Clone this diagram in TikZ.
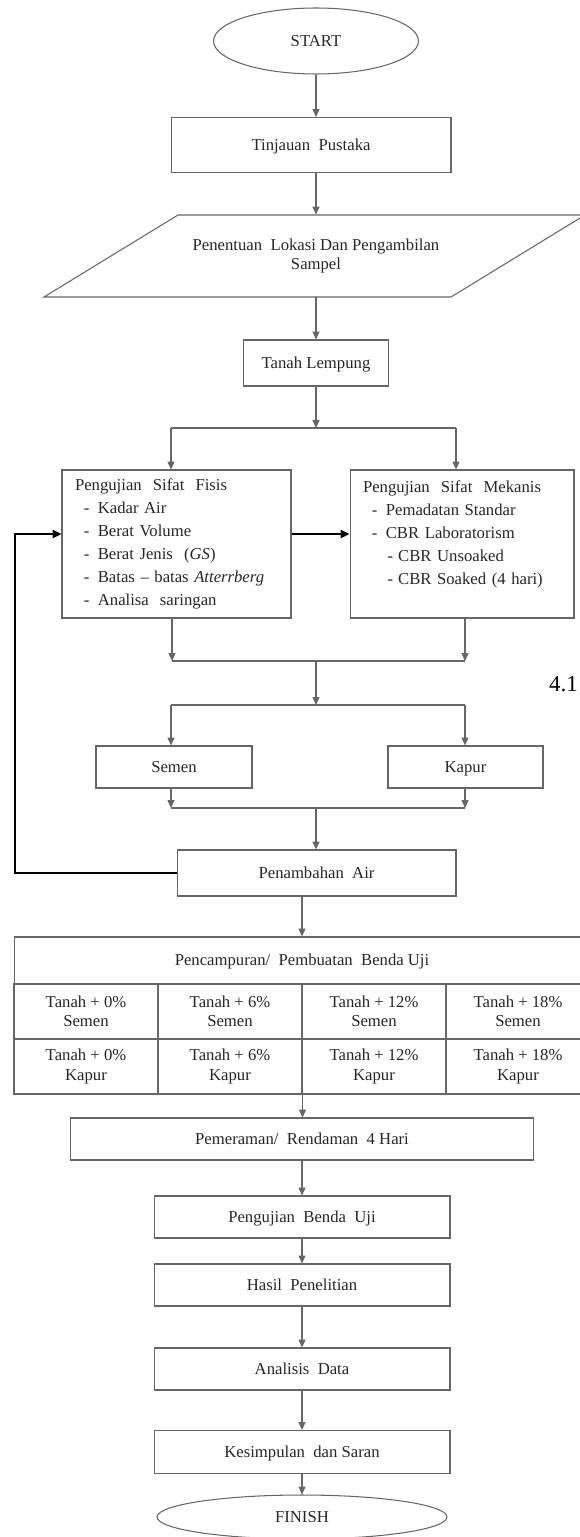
\documentclass[tikz,border=0pt]{standalone}
\usepackage{fontspec}
\setmainfont{Liberation Serif}
\usepackage{tikz}
\usetikzlibrary{shapes.geometric, arrows.meta}
\definecolor{boxline}{gray}{0.40}
\definecolor{boxtext}{gray}{0.15}

\newcommand{\itm}[1]{\hspace*{5pt}\makebox[8pt][l]{-}#1}
\newcommand{\subitm}[1]{\hspace*{14pt}\makebox[6pt][l]{-}#1}

\begin{document}
\begin{tikzpicture}[x=0.02cm, y=-0.02cm,
		every node/.style={font=\fontsize{9.5}{11}\selectfont, text=boxtext},
		box/.style={draw=boxline, line width=0.6pt, rectangle, align=center, inner sep=2pt},
		onebox/.style={box, text height=1.6ex, text depth=0.3ex},
		listbox/.style={box, align=left, inner xsep=0.26cm, minimum height=2.96cm,
			font=\fontsize{9.5}{13}\selectfont},
		term/.style={draw=boxline, line width=0.6pt, ellipse, inner sep=0pt},
		cell/.style={box, minimum width=2.88cm, minimum height=1.1cm, inner sep=0pt},
		joinline/.style={draw=boxline, line width=0.6pt},
		flow/.style={joinline, -{Triangle[length=4.5pt,width=4pt]}},
		backline/.style={draw=black, line width=1.6pt, -{Triangle[length=5pt,width=4.5pt]}}]
	\useasboundingbox (0,0) rectangle (580,1537);

	% start, literature, sampling site
	\node[term, minimum width=4.1cm, minimum height=1.32cm] (start) at (316,41) {START};
	\node[onebox, minimum width=5.6cm, minimum height=1.1cm] (tinjauan) at (311,145) {Tinjauan\ \ Pustaka};
	\node[align=center, minimum height=1.64cm] (lokasi) at (316,256)
		{Penentuan\ \ Lokasi Dan Pengambilan\\Sampel};
	\draw[joinline] (44,297) -- (451,297) -- (585,215) -- (178,215) -- cycle;

	\draw[flow] (start.south) -- (start.south |- tinjauan.north);
	\draw[flow] (tinjauan.south -| start.south) -- (lokasi.north);

	% clay
	\node[onebox, minimum width=2.9cm, minimum height=0.92cm] (tanah) at (316,363) {Tanah Lempung};
	\draw[flow] (lokasi.south) -- (tanah.north);

	% physical and mechanical tests
	\node[listbox, minimum width=4.58cm, text width=4.06cm] (fisis) at (176.5,544)
		{Pengujian\ \ Sifat\ \ Fisis\\
		\itm{Kadar Air}\\
		\itm{Berat Volume}\\
		\itm{Berat Jenis\ \ (\textit{GS})}\\
		\itm{Batas -- batas \textit{Atterrberg}}\\
		\itm{Analisa\ \ saringan}};
	\node[listbox, minimum width=4.48cm, text width=3.96cm] (mekanis) at (462,544)
		{Pengujian\ \ Sifat\ \ Mekanis\\
		\itm{Pemadatan Standar}\\
		\itm{CBR Laboratorism}\\
		\subitm{CBR Unsoaked}\\
		\subitm{CBR Soaked (4 hari)}\\
		\mbox{}};

	\coordinate (sp1l) at (171,428);
	\coordinate (sp1r) at (456,428);
	\draw[flow] (tanah.south) -- (tanah.south |- sp1l);
	\draw[joinline] (sp1l) -- (sp1r);
	\draw[flow] (sp1l) -- (sp1l |- fisis.north);
	\draw[flow] (sp1r) -- (sp1r |- mekanis.north);

	\coordinate (fb) at (15,534);
	\draw[backline] (fb -| fisis.east) -- (fb -| mekanis.west);

	% merge, then cement / lime
	\coordinate (mg1l) at (172,661);
	\coordinate (mg1r) at (465,661);
	\coordinate (mg1c) at (316,661);
	\draw[flow] (mg1l |- fisis.south) -- (mg1l);
	\draw[flow] (mg1r |- mekanis.south) -- (mg1r);
	\draw[joinline] (mg1l) -- (mg1r);

	\node[onebox, minimum width=3.12cm, minimum height=0.84cm] (semen) at (174,767) {Semen};
	\node[onebox, minimum width=3.1cm, minimum height=0.84cm] (kapur) at (465.5,767) {Kapur};

	\coordinate (sp2l) at (171,705);
	\coordinate (sp2r) at (465,705);
	\draw[flow] (mg1c) -- (mg1c |- sp2l);
	\draw[joinline] (sp2l) -- (sp2r);
	\draw[flow] (sp2l) -- (sp2l |- semen.north);
	\draw[flow] (sp2r) -- (sp2r |- kapur.north);

	\node[font=\fontsize{13}{15}\selectfont, text=black, anchor=west] (secnum) at (543,684) {4.1};

	% water
	\node[onebox, minimum width=5.58cm, minimum height=0.92cm] (penambahan) at (316.5,873) {Penambahan\ \ Air};

	\coordinate (mg2l) at (171,808);
	\coordinate (mg2r) at (465,808);
	\coordinate (mg2c) at (316,808);
	\draw[flow] (mg2l |- semen.south) -- (mg2l);
	\draw[flow] (mg2r |- kapur.south) -- (mg2r);
	\draw[joinline] (mg2l) -- (mg2r);
	\draw[flow] (mg2c) -- (mg2c |- penambahan.north);

	\draw[backline] (penambahan.west) -| (fb) -- (fb -| fisis.west);

	% mixing table
	\node[onebox, minimum width=11.52cm, minimum height=0.94cm] (hdr) at (302,960.5)
		{Pencampuran/\ \ Pembuatan\ \ Benda Uji};
	\foreach \pct [count=\i] in {0,6,12,18} {
		\node[cell] (s\i) at ({86+144*(\i-1)},1011.5) {Tanah + \pct\%\\Semen};
		\node[cell] (k\i) at ({86+144*(\i-1)},1066.5) {Tanah + \pct\%\\Kapur};
	}
	\draw[flow] (penambahan.south -| hdr.north) -- (hdr.north);

	% curing to conclusion
	\node[onebox, minimum width=9.26cm, minimum height=0.84cm] (pemeraman) at (302,1139)
		{Pemeraman/\ \ Rendaman\ \ 4 Hari};
	\node[onebox, minimum width=5.92cm, minimum height=0.84cm] (uji) at (302,1217) {Pengujian\ \ Benda\ \ Uji};
	\node[onebox, minimum width=5.92cm, minimum height=0.84cm] (hasil) at (302,1285) {Hasil\ \ Penelitian};
	\node[onebox, minimum width=5.92cm, minimum height=0.84cm] (analisis) at (302,1369) {Analisis\ \ Data};
	\node[onebox, minimum width=5.92cm, minimum height=0.86cm] (kesimpulan) at (302,1452) {Kesimpulan\ \ dan Saran};
	\node[term, minimum width=5.8cm, minimum height=0.88cm] (finish) at (302,1517) {FINISH};

	\draw[flow] (k2.south east) -- (k2.south east |- pemeraman.north);
	\draw[flow] (pemeraman.south) -- (uji.north);
	\draw[flow] (uji.south) -- (hasil.north);
	\draw[flow] (hasil.south) -- (analisis.north);
	\draw[flow] (analisis.south) -- (kesimpulan.north);
	\draw[flow] (kesimpulan.south) -- (finish.north);

\end{tikzpicture}
\end{document}
